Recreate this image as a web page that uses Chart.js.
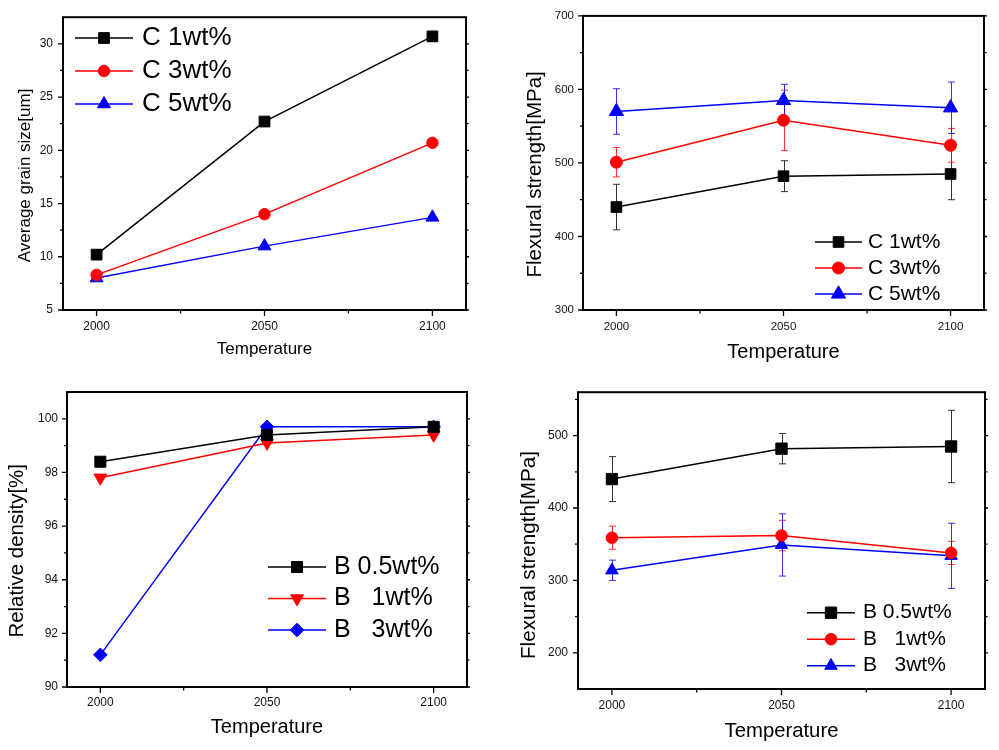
<!DOCTYPE html>
<html><head><meta charset="utf-8">
<script src="https://cdn.jsdelivr.net/npm/chart.js@4.4.1/dist/chart.umd.min.js"></script>
<style>
html,body{margin:0;padding:0;background:#fff;}
#wrap{position:relative;width:999px;height:750px;overflow:hidden;background:#fff;}
canvas{position:absolute;}
</style></head><body>
<div id="wrap">
<canvas id="c1" width="495" height="372" style="left:0px;top:0px"></canvas>
<canvas id="c2" width="499" height="372" style="left:500px;top:0px"></canvas>
<canvas id="c3" width="495" height="375" style="left:0px;top:375px"></canvas>
<canvas id="c4" width="499" height="375" style="left:500px;top:375px"></canvas>
</div>
<script>
// ---------- data ----------
const TEMPERATURES = [2000, 2050, 2100];
const TEMP_TICKS = [2000, 2050, 2100];
const X_TITLE = 'Temperature';

// (a) average grain size, carbon content
const GRAIN_TITLE = 'Average grain size[um]';
const GRAIN_LABELS = ['C 1wt%', 'C 3wt%', 'C 5wt%'];
const GRAIN_C1 = [10.2, 22.7, 30.7];
const GRAIN_C3 = [8.3, 14.0, 20.7];
const GRAIN_C5 = [8.0, 11.0, 13.7];
const GRAIN_TICKS = [5, 10, 15, 20, 25, 30];

// (b) flexural strength, carbon content
const FLEX_TITLE = 'Flexural strength[MPa]';
const FLEX_C_LABELS = ['C 1wt%', 'C 3wt%', 'C 5wt%'];
const FLEX_C1 = [440, 482, 485];
const FLEX_C1_ERR = [31, 21, 35];
const FLEX_C3 = [501, 558, 524];
const FLEX_C3_ERR = [20, 41, 23];
const FLEX_C5 = [570, 585, 575];
const FLEX_C5_ERR = [31, 22, 35];
const FLEX_C_TICKS = [300, 400, 500, 600, 700];

// (c) relative density, boron content
const DENS_TITLE = 'Relative density[%]';
const DENS_LABELS = ['B 0.5wt%', 'B   1wt%', 'B   3wt%'];
const DENS_B05 = [98.4, 99.4, 99.7];
const DENS_B1 = [97.8, 99.1, 99.4];
const DENS_B3 = [91.2, 99.7, 99.7];
const DENS_TICKS = [90, 92, 94, 96, 98, 100];

// (d) flexural strength, boron content
const FLEX_B_LABELS = ['B 0.5wt%', 'B   1wt%', 'B   3wt%'];
const FLEX_B05 = [440, 482, 485];
const FLEX_B05_ERR = [31, 21, 50];
const FLEX_B1 = [359, 362, 338];
const FLEX_B1_ERR = [16, 21, 16];
const FLEX_B3 = [314, 349, 334];
const FLEX_B3_ERR = [14, 43, 45];
const FLEX_B_TICKS = [200, 300, 400, 500];

// ---------- helpers ----------
const FONT = 'Arial, "Liberation Sans", sans-serif';
const BLACK = '#000000', RED = '#ff0000', BLUE = '#0000ff';

function series(label, values, color, style, radius, rotation, errors) {
  return {
    label: label,
    data: TEMPERATURES.map((t, i) => ({x: t, y: values[i]})),
    borderColor: color, backgroundColor: color,
    pointBackgroundColor: color, pointBorderColor: color,
    pointStyle: style, pointRadius: radius, pointHoverRadius: radius,
    pointRotation: rotation || 0, pointBorderWidth: 1,
    borderWidth: 1.5, tension: 0, fill: false,
    errors: errors || null
  };
}

function midTicks(ticks, min, max) {
  const out = [];
  const step = ticks[1] - ticks[0];
  const all = [ticks[0] - step].concat(ticks).concat([ticks[ticks.length - 1] + step]);
  for (let i = 0; i < all.length - 1; i++) {
    const m = (all[i] + all[i + 1]) / 2;
    if (m > min && m < max) out.push(m);
  }
  return out;
}

const errorBarPlugin = {
  id: 'errorBars',
  beforeDatasetsDraw(chart) {
    const ctx = chart.ctx, xs = chart.scales.x, ys = chart.scales.y;
    chart.data.datasets.forEach(ds => {
      if (!ds.errors) return;
      ctx.save();
      ctx.strokeStyle = ds.borderColor;
      ctx.globalAlpha = 0.8;
      ctx.lineWidth = 1;
      ds.data.forEach((p, i) => {
        const e = ds.errors[i];
        const x = Math.round(xs.getPixelForValue(p.x)) + 0.5;
        const y1 = ys.getPixelForValue(p.y + e), y2 = ys.getPixelForValue(p.y - e);
        ctx.beginPath();
        ctx.moveTo(x, y1); ctx.lineTo(x, y2);
        ctx.moveTo(x - 3.5, y1); ctx.lineTo(x + 3.5, y1);
        ctx.moveTo(x - 3.5, y2); ctx.lineTo(x + 3.5, y2);
        ctx.stroke();
      });
      ctx.restore();
    });
  }
};

const framePlugin = {
  id: 'frame',
  afterDatasetsDraw(chart) {
    const ctx = chart.ctx, a = chart.chartArea, xs = chart.scales.x, ys = chart.scales.y;
    ctx.save();
    ctx.strokeStyle = '#000';
    ctx.lineWidth = 2;
    ctx.strokeRect(a.left, a.top, a.right - a.left, a.bottom - a.top);
    ctx.lineWidth = 1.3;
    ctx.beginPath();
    const xt = TEMP_TICKS;
    xt.forEach(v => { const x = xs.getPixelForValue(v); ctx.moveTo(x, a.bottom); ctx.lineTo(x, a.bottom + 6); });
    midTicks(xt, xs.min, xs.max).forEach(v => { const x = xs.getPixelForValue(v); ctx.moveTo(x, a.bottom); ctx.lineTo(x, a.bottom + 3.5); });
    const yt = chart.options.plugins.frame.yTicks;
    yt.forEach(v => {
      const y = ys.getPixelForValue(v);
      ctx.moveTo(a.left, y); ctx.lineTo(a.left - 5, y);
      ctx.moveTo(a.right, y); ctx.lineTo(a.right + 3, y);
    });
    midTicks(yt, ys.min, ys.max).forEach(v => {
      const y = ys.getPixelForValue(v);
      ctx.moveTo(a.left, y); ctx.lineTo(a.left - 3, y);
      ctx.moveTo(a.right, y); ctx.lineTo(a.right + 2.5, y);
    });
    ctx.stroke();
    ctx.restore();
  }
};

const legendPlugin = {
  id: 'lineLegend',
  afterDraw(chart) {
    const o = chart.options.plugins.lineLegend;
    const ctx = chart.ctx;
    chart.data.datasets.forEach((ds, i) => {
      const y = o.y0 + i * o.dy;
      ctx.save();
      ctx.strokeStyle = ds.borderColor;
      ctx.lineWidth = 1.5;
      ctx.beginPath();
      ctx.moveTo(o.x0, y); ctx.lineTo(o.x1, y);
      ctx.stroke();
      ctx.fillStyle = ds.pointBackgroundColor;
      ctx.strokeStyle = ds.pointBorderColor;
      ctx.lineWidth = 1;
      Chart.helpers.drawPoint(ctx, {pointStyle: ds.pointStyle, radius: ds.pointRadius, rotation: ds.pointRotation, borderWidth: 1}, (o.x0 + o.x1) / 2, y);
      ctx.fillStyle = '#000';
      ctx.font = o.size + 'px ' + FONT;
      ctx.textBaseline = 'middle';
      ctx.textAlign = 'left';
      ctx.fillText(ds.label, o.textX, y);
      ctx.restore();
    });
  }
};

function makeChart(id, p) {
  const yTitleText = p.yTitle + ' '.repeat(p.yTitleShift);
  return new Chart(document.getElementById(id), {
    type: 'line',
    data: {datasets: p.datasets},
    plugins: [errorBarPlugin, framePlugin, legendPlugin],
    options: {
      responsive: false, animation: false, devicePixelRatio: 1,
      layout: {padding: {left: 0, top: p.top, right: p.right, bottom: 0}},
      plugins: {
        legend: {display: false}, tooltip: {enabled: false},
        frame: {yTicks: p.yTicks},
        lineLegend: p.legend
      },
      scales: {
        x: {
          type: 'linear', min: 1990, max: 2110,
          afterBuildTicks: s => { s.ticks = TEMP_TICKS.map(v => ({value: v})); },
          afterFit: s => { s.height = p.xHeight; },
          grid: {display: false, drawTicks: false}, border: {display: false},
          ticks: {padding: p.xTickPad, color: '#111', font: {family: FONT, size: p.tickSize}, callback: v => String(v), maxRotation: 0, autoSkip: false},
          title: {display: true, text: X_TITLE, color: '#000', font: {family: FONT, size: p.xTitleSize, lineHeight: 1.2}, padding: {top: 0, bottom: p.xTitlePad}}
        },
        y: {
          type: 'linear', min: p.yMin, max: p.yMax,
          afterBuildTicks: s => { s.ticks = p.yTicks.map(v => ({value: v})); },
          afterFit: s => { s.width = p.yWidth; },
          grid: {display: false, drawTicks: false}, border: {display: false},
          ticks: {padding: p.yTickPad, color: '#111', font: {family: FONT, size: p.tickSize}, callback: v => String(v), autoSkip: false},
          title: {display: true, text: yTitleText, color: '#000', font: {family: FONT, size: p.yTitleSize, lineHeight: 1.2}, padding: {top: p.yTitlePad, bottom: 0}}
        }
      }
    }
  });
}

// (a)
makeChart('c1', {
  datasets: [
    series(GRAIN_LABELS[0], GRAIN_C1, BLACK, 'rect', 7.6, 0),
    series(GRAIN_LABELS[1], GRAIN_C3, RED, 'circle', 5.7, 0),
    series(GRAIN_LABELS[2], GRAIN_C5, BLUE, 'triangle', 7.5, 0)
  ],
  top: 14, right: 29, xHeight: 62, yWidth: 63,
  yMin: 5, yMax: 32.5, yTicks: GRAIN_TICKS,
  tickSize: 12, xTickPad: 9.5, yTickPad: 10,
  xTitleSize: 17, xTitlePad: 12.8, yTitle: GRAIN_TITLE, yTitleSize: 17, yTitlePad: 15, yTitleShift: 5,
  legend: {x0: 75, x1: 133, textX: 142, y0: 38, dy: 33, size: 26}
});

// (b)
makeChart('c2', {
  datasets: [
    series(FLEX_C_LABELS[0], FLEX_C1, BLACK, 'rect', 7.5, 0, FLEX_C1_ERR),
    series(FLEX_C_LABELS[1], FLEX_C3, RED, 'circle', 6, 0, FLEX_C3_ERR),
    series(FLEX_C_LABELS[2], FLEX_C5, BLUE, 'triangle', 8.2, 0, FLEX_C5_ERR)
  ],
  top: 15, right: 15, xHeight: 62, yWidth: 83,
  yMin: 300, yMax: 700, yTicks: FLEX_C_TICKS,
  tickSize: 11.5, xTickPad: 9.5, yTickPad: 9,
  xTitleSize: 20, xTitlePad: 8, yTitle: FLEX_TITLE, yTitleSize: 20.5, yTitlePad: 22.7, yTitleShift: 4,
  legend: {x0: 315, x1: 362, textX: 368, y0: 242, dy: 26, size: 21}
});

// (c)
makeChart('c3', {
  datasets: [
    series(DENS_LABELS[0], DENS_B05, BLACK, 'rect', 7.8, 0),
    series(DENS_LABELS[1], DENS_B1, RED, 'triangle', 7.4, 180),
    series(DENS_LABELS[2], DENS_B3, BLUE, 'rectRot', 6.8, 0)
  ],
  top: 17, right: 28, xHeight: 63, yWidth: 67,
  yMin: 90, yMax: 101, yTicks: DENS_TICKS,
  tickSize: 12, xTickPad: 8.5, yTickPad: 9,
  xTitleSize: 20, xTitlePad: 11, yTitle: DENS_TITLE, yTitleSize: 20.4, yTitlePad: 5.3, yTitleShift: 4,
  legend: {x0: 268, x1: 326, textX: 334, y0: 192, dy: 31.5, size: 25}
});

// (d)
makeChart('c4', {
  datasets: [
    series(FLEX_B_LABELS[0], FLEX_B05, BLACK, 'rect', 8, 0, FLEX_B05_ERR),
    series(FLEX_B_LABELS[1], FLEX_B1, RED, 'circle', 5.8, 0, FLEX_B1_ERR),
    series(FLEX_B_LABELS[2], FLEX_B3, BLUE, 'triangle', 7.2, 0, FLEX_B3_ERR)
  ],
  top: 14, right: 14, xHeight: 61, yWidth: 78,
  yMin: 150, yMax: 560, yTicks: FLEX_B_TICKS,
  tickSize: 12, xTickPad: 9.3, yTickPad: 10,
  xTitleSize: 20.3, xTitlePad: 6.1, yTitle: FLEX_TITLE, yTitleSize: 20.7, yTitlePad: 17, yTitleShift: 5,
  legend: {x0: 307, x1: 355, textX: 363, y0: 237.7, dy: 26.5, size: 21}
});
</script>
</body></html>
